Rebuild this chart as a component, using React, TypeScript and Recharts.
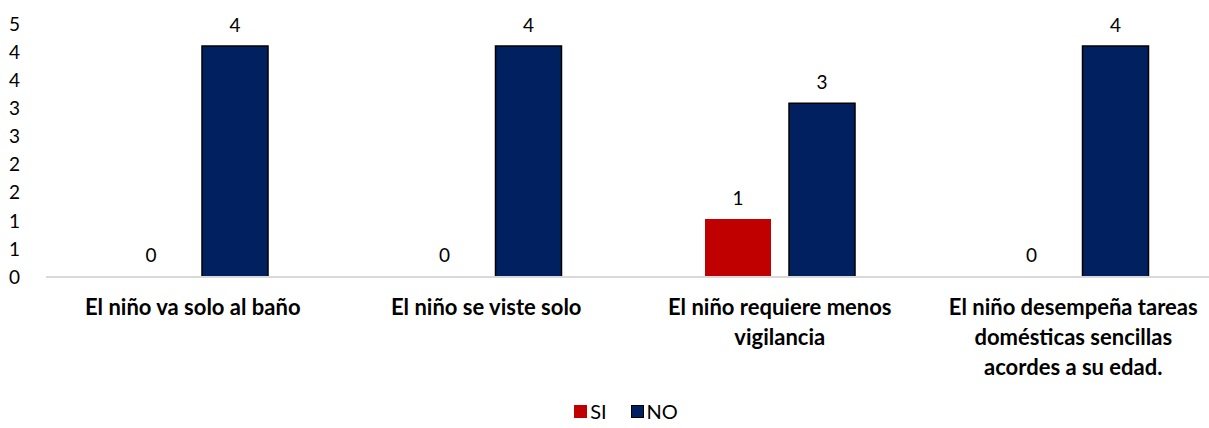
import React from 'react';
import { BarChart, Bar, XAxis, YAxis, Legend, LabelList, Cell } from 'recharts';

// Categories (line breaks as in the original labels)
const categories = [
  'El niño va solo al baño',
  'El niño se viste solo',
  'El niño requiere menos\nvigilancia',
  'El niño desempeña tareas\ndomésticas sencillas\nacordes a su edad.',
];

// Series values
const siValues = [0, 0, 1.03, 0];
const noValues = [4.11, 4.11, 3.09, 4.11];

// Axis ticks 0..4.5 step 0.5, shown rounded like the original
const yTicks = [0, 0.5, 1, 1.5, 2, 2.5, 3, 3.5, 4, 4.5];

const SI_COLOR = '#C00000';
const NO_COLOR = '#002060';
const FONT = 'Lato, "Noto Sans", sans-serif';

const data = categories.map((name, i) => ({ name, SI: siValues[i], NO: noValues[i] }));

const CategoryTick = (props: any) => {
  const { x, y, payload } = props;
  const lines = String(payload.value).split('\n');
  return (
    <g transform={`translate(${x},${y})`}>
      {lines.map((line, i) => (
        <text
          key={i}
          x={0}
          y={30 + i * 30}
          textAnchor="middle"
          fontFamily={FONT}
          fontWeight={700}
          fontSize={22}
          fill="#000"
        >
          {line}
        </text>
      ))}
    </g>
  );
};

const LegendContent = () => (
  <div style={{ display: 'flex', justifyContent: 'center', fontFamily: FONT, fontSize: 20, lineHeight: '22px', color: '#000', paddingTop: 17, paddingBottom: 3, marginLeft: 32 }}>
    <span style={{ display: 'flex', alignItems: 'center', marginRight: 24 }}>
      <span style={{ width: 13, height: 13, background: SI_COLOR, display: 'inline-block', marginRight: 3 }} />
      SI
    </span>
    <span style={{ display: 'flex', alignItems: 'center' }}>
      <span style={{ width: 11, height: 11, background: NO_COLOR, border: '1px solid #000', display: 'inline-block', marginRight: 3 }} />
      NO
    </span>
  </div>
);

const fmt = (v: any) => String(Math.round(Number(v)));

export default function App() {
  return (
    <div style={{ position: 'absolute', left: 0, top: 0, width: 1209, height: 428, overflow: 'hidden', background: '#fff' }}>
      <BarChart
        width={1222}
        height={428}
        data={data}
        margin={{ top: 24, right: 2, bottom: 0, left: 0 }}
        barGap={18}
        barSize={66}
      >
        <XAxis
          dataKey="name"
          axisLine={{ stroke: '#d9d9d9', strokeWidth: 2 }}
          tickLine={false}
          interval={0}
          height={106}
          tick={<CategoryTick />}
        />
        <YAxis
          domain={[0, 4.5]}
          ticks={yTicks}
          width={46}
          axisLine={false}
          tickLine={false}
          tickMargin={20}
          tickFormatter={fmt}
          tick={{ fontFamily: FONT, fontSize: 19, fill: '#000' }}
        />
        <Legend verticalAlign="bottom" height={45} wrapperStyle={{ bottom: 0 }} content={<LegendContent />} />
        <Bar dataKey="SI" fill={SI_COLOR} minPointSize={1} isAnimationActive={false}>
          {siValues.map((v, i) => (
            <Cell key={`si-${i}`} fill={v === 0 ? 'transparent' : SI_COLOR} />
          ))}
          <LabelList
            dataKey="SI"
            position="top"
            offset={14}
            formatter={fmt}
            style={{ fontFamily: FONT, fontSize: 19, fill: '#000' }}
          />
        </Bar>
        <Bar dataKey="NO" fill={NO_COLOR} stroke="#000" strokeWidth={1.5} isAnimationActive={false}>
          <LabelList
            dataKey="NO"
            position="top"
            offset={14}
            formatter={fmt}
            style={{ fontFamily: FONT, fontSize: 19, fill: '#000' }}
          />
        </Bar>
      </BarChart>
    </div>
  );
}
